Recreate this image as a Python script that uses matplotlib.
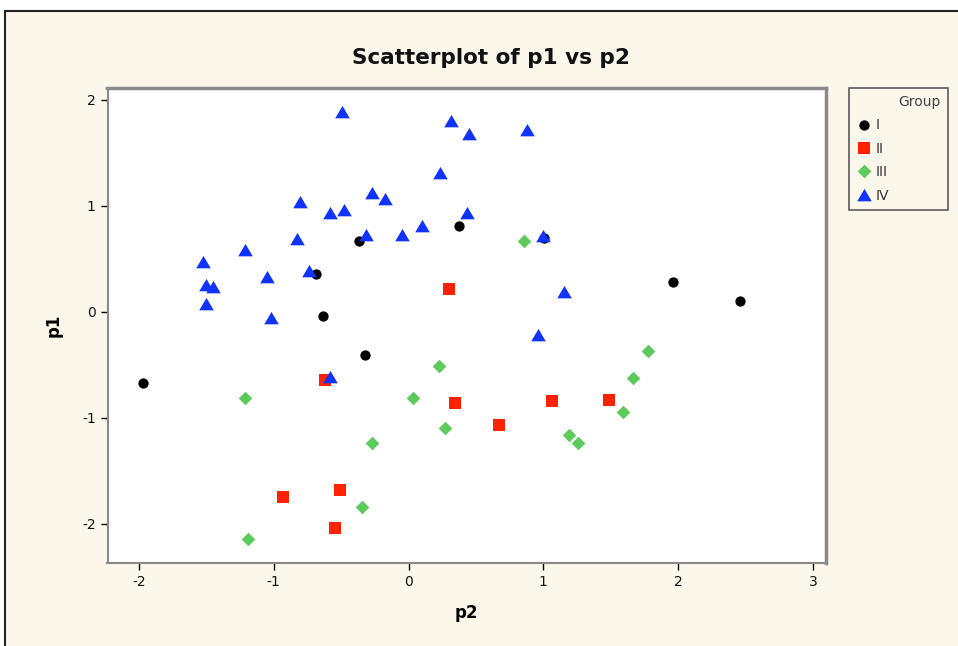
import matplotlib
matplotlib.use("Agg")
import matplotlib.pyplot as plt
from matplotlib.patches import Rectangle

plt.rcParams["axes.unicode_minus"] = False

# values
groups = ["I", "II", "III", "IV"]

p2_I = [-1.97, -0.685, -0.632, -0.365, -0.32, 0.375, 1.005, 1.96, 2.457]
p1_I = [-0.67, 0.356, -0.044, 0.663, -0.406, 0.81, 0.695, 0.277, 0.10]

p2_II = [0.298, -0.62, -0.93, -0.508, -0.545, 0.347, 0.671, 1.067, 1.49]
p1_II = [0.21, -0.64, -1.745, -1.68, -2.04, -0.858, -1.07, -0.843, -0.83]

p2_III = [0.857, -1.215, 0.036, -0.27, -0.345, -1.19, 0.226, 0.27, 1.19,
          1.257, 1.59, 1.663, 1.775]
p1_III = [0.667, -0.814, -0.814, -1.24, -1.84, -2.14, -0.516, -1.10, -1.16,
          -1.24, -0.943, -0.626, -0.371]

p2_IV = [-0.493, -0.807, -0.27, -0.172, -0.585, -0.48, -0.83, -0.318, -0.05,
         0.098, -1.215, -1.525, -1.052, -0.736, -1.502, -1.448, -1.502,
         -1.018, -0.582, 0.313, 0.447, 0.881, 0.236, 0.436, 0.995, 1.154,
         0.958]
p1_IV = [1.88, 1.035, 1.12, 1.063, 0.93, 0.96, 0.69, 0.726, 0.723, 0.805,
         0.578, 0.47, 0.327, 0.38, 0.248, 0.233, 0.075, -0.063, -0.616,
         1.80, 1.676, 1.717, 1.308, 0.93, 0.71, 0.19, -0.22]

xticks = [-2, -1, 0, 1, 2, 3]
yticks = [-2, -1, 0, 1, 2]

W, H = 958, 646
cream = "#fbf7eb"
tri = [(-1, -0.8), (1, -0.8), (0, 0.9)]

styles = {
    "I": dict(marker="o", s=55, color="black"),
    "II": dict(marker="s", s=70, color="#ff2200"),
    "III": dict(marker="D", s=48, color="#5ccb5c"),
    "IV": dict(marker=tri, s=110, color="#1133ff"),
}
data = {
    "I": (p2_I, p1_I),
    "II": (p2_II, p1_II),
    "III": (p2_III, p1_III),
    "IV": (p2_IV, p1_IV),
}

fig = plt.figure(figsize=(W / 100, H / 100), dpi=100, facecolor="white")
fig.add_artist(Rectangle((5 / W, -0.01), 1.0, 1 - 11 / H + 0.01,
                         transform=fig.transFigure, facecolor=cream,
                         edgecolor="#222222", linewidth=1.5, zorder=-10))

ax = fig.add_axes([107.5 / W, 1 - 563 / H, (826 - 107.5) / W, (563 - 88) / H])
ax.set_facecolor("white")

for g in groups:
    x, y = data[g]
    st = styles[g]
    ax.scatter(x, y, marker=st["marker"], s=st["s"], color=st["color"],
               linewidths=0, label=g, zorder=3)

ax.set_xlim(-2.233, 3.097)
ax.set_ylim(-2.37, 2.11)
ax.set_xticks(xticks)
ax.set_yticks(yticks)
ax.tick_params(direction="out", length=5, width=1, color="black",
               labelsize=10, labelcolor="#111111")

for side in ["left", "bottom"]:
    ax.spines[side].set_color("#8a8a8a")
    ax.spines[side].set_linewidth(1.5)
for side in ["right", "top"]:
    ax.spines[side].set_color("#8a8a8a")
    ax.spines[side].set_linewidth(2.5)

fig.text(491 / W, 1 - 58 / H, "Scatterplot of p1 vs p2", fontsize=15.5,
         fontweight="bold", color="#111111", ha="center", va="center")
ax.set_xlabel("p2", fontsize=12, fontweight="bold", labelpad=11)
ax.set_ylabel("p1", fontsize=12, fontweight="bold", labelpad=14)

leg = ax.legend(title="Group", loc="upper left",
                bbox_to_anchor=(849 / W, 1 - 213 / H, 99 / W, 125 / H),
                bbox_transform=fig.transFigure, mode="expand",
                alignment="right", fancybox=False, frameon=True,
                fontsize=10, title_fontsize=10, handletextpad=0.2,
                handlelength=1.2, borderpad=0.5,
                labelspacing=0.68, borderaxespad=0, scatteryoffsets=[0.5])
leg.get_frame().set_edgecolor("#333333")
leg.get_frame().set_facecolor(cream)
leg.get_frame().set_linewidth(1.2)
leg.get_title().set_color("#444444")
for t in leg.get_texts():
    t.set_color("#333333")

fig.savefig("out.png", dpi=100, facecolor=fig.get_facecolor())
